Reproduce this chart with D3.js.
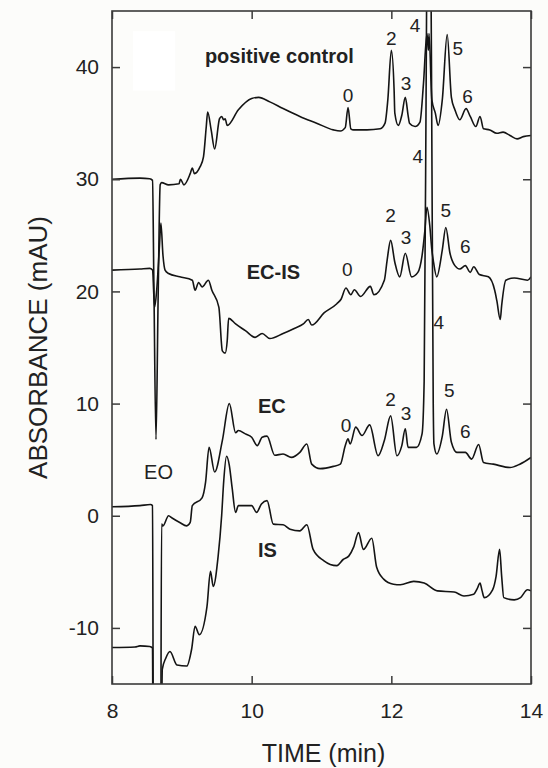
<!DOCTYPE html>
<html>
<head>
<meta charset="utf-8">
<script src="https://cdn.jsdelivr.net/npm/d3@7"></script>
<style>
  html, body { margin: 0; padding: 0; background: #fcfcfa; }
  svg { display: block; }
  text { font-family: "Liberation Sans", Arial, sans-serif; fill: #222; }
</style>
</head>
<body>
<svg id="chart" width="548" height="768"></svg>
<script>
// Chromatogram traces: [time (min), absorbance (mAU)]
const positiveControl = [
  [8.00,30.0],[8.40,30.1],[8.54,30.05],[8.58,29.9],[8.60,20.5],[8.63,6.8],[8.66,19.2],[8.69,29.5],
  [8.71,29.7],[8.81,29.5],[8.96,29.6],[8.98,30.0],[9.03,29.5],[9.12,30.5],[9.15,31.0],[9.18,30.5],
  [9.26,31.1],[9.31,32.0],[9.35,34.7],[9.37,36.0],[9.42,34.4],[9.47,32.7],[9.54,35.4],[9.57,35.6],
  [9.60,35.3],[9.62,35.4],[9.65,34.8],[9.81,36.2],[10.00,37.2],[10.10,37.3],[10.26,36.9],[10.45,36.3],
  [10.69,35.6],[10.93,35.0],[11.17,34.4],[11.27,34.3],[11.34,34.6],[11.38,36.4],[11.42,34.5],[11.46,34.4],
  [11.65,34.4],[11.84,34.5],[11.91,35.0],[11.95,37.1],[12.00,41.5],[12.04,37.9],[12.05,35.9],[12.10,34.8],
  [12.15,35.7],[12.20,37.3],[12.24,35.7],[12.26,35.0],[12.34,34.7],[12.41,35.1],[12.46,38.5],[12.51,43.0],
  [12.53,41.5],[12.54,43.0],[12.58,37.1],[12.63,35.9],[12.67,34.8],[12.73,37.1],[12.80,42.9],[12.86,37.3],
  [12.91,36.2],[12.98,35.3],[13.07,36.3],[13.13,35.6],[13.21,34.7],[13.27,35.6],[13.32,34.5],[13.41,34.4],
  [13.51,34.1],[13.60,34.2],[13.70,33.9],[13.80,33.6],[13.89,33.8],[14.00,33.9]
];

const ecIs = [
  [8.00,21.9],[8.40,22.0],[8.54,22.05],[8.58,21.9],[8.61,18.6],[8.64,20.1],[8.68,24.1],[8.70,26.1],
  [8.73,23.2],[8.76,21.9],[8.81,21.6],[8.97,21.3],[9.15,21.0],[9.19,20.1],[9.24,20.8],[9.29,20.4],
  [9.38,21.0],[9.43,20.1],[9.53,18.6],[9.58,14.7],[9.62,14.5],[9.65,15.6],[9.67,17.6],[9.77,17.1],
  [9.91,16.5],[10.05,15.9],[10.15,16.25],[10.26,15.8],[10.45,16.25],[10.61,16.7],[10.74,17.1],[10.81,17.5],
  [10.86,17.0],[11.04,18.1],[11.22,18.9],[11.28,19.3],[11.35,20.3],[11.42,19.7],[11.47,20.15],[11.56,19.55],
  [11.70,20.45],[11.75,19.7],[11.90,21.0],[11.94,22.8],[11.99,24.55],[12.05,22.6],[12.12,21.3],[12.20,23.4],
  [12.29,21.3],[12.38,21.7],[12.44,23.2],[12.48,25.4],[12.51,27.5],[12.55,25.9],[12.58,23.7],[12.60,22.8],
  [12.65,21.3],[12.73,23.7],[12.78,25.7],[12.84,23.4],[12.91,22.3],[12.98,22.0],[13.06,22.3],[13.13,21.7],
  [13.18,22.2],[13.26,21.5],[13.39,21.3],[13.48,20.1],[13.51,19.2],[13.56,17.5],[13.58,18.75],[13.64,21.0],
  [13.76,21.2],[13.95,21.0],[14.00,21.3]
];

const ecTrace = [
  [8.00,0.8],[8.40,0.9],[8.55,1.0],[8.58,0.9],[8.595,-25],[8.695,-25],[8.71,-0.75],[8.73,-0.9],
  [8.81,0.0],[8.86,-0.2],[8.97,-0.6],[9.07,-0.9],[9.12,-0.6],[9.15,0.9],[9.29,1.6],[9.34,3.0],
  [9.39,6.1],[9.47,3.9],[9.58,6.7],[9.68,10.0],[9.77,7.4],[9.81,7.6],[9.91,7.3],[10.00,7.0],
  [10.08,6.25],[10.15,7.0],[10.22,7.1],[10.33,5.4],[10.45,5.5],[10.57,5.2],[10.69,5.65],[10.79,6.4],
  [10.86,4.6],[10.98,4.2],[11.17,4.4],[11.27,4.6],[11.34,6.25],[11.38,6.85],[11.41,6.4],[11.49,7.9],
  [11.58,7.15],[11.69,8.1],[11.81,5.35],[11.90,6.7],[11.99,8.9],[12.08,5.35],[12.15,6.25],[12.20,7.75],
  [12.24,6.1],[12.36,6.1],[12.44,7.3],[12.47,12.0],[12.50,40.0],[12.525,65.0],[12.545,65.0],[12.575,40.0],
  [12.60,10.0],[12.61,6.4],[12.65,5.5],[12.73,7.1],[12.79,9.5],[12.86,6.55],[12.94,5.65],[13.06,5.65],
  [13.15,5.05],[13.25,6.35],[13.32,4.75],[13.46,4.6],[13.70,4.3],[13.84,4.6],[14.00,5.2]
];

const isTrace = [
  [8.00,-11.75],[8.33,-11.7],[8.40,-11.6],[8.54,-11.65],[8.58,-11.8],[8.59,-25],[8.70,-25],[8.72,-13.7],
  [8.77,-12.7],[8.83,-12.1],[8.93,-13.3],[9.07,-13.4],[9.14,-11.9],[9.19,-9.85],[9.25,-10.6],[9.36,-8.1],
  [9.41,-4.95],[9.45,-6.3],[9.52,-3.6],[9.57,0.0],[9.60,3.1],[9.64,5.3],[9.68,4.5],[9.72,2.5],
  [9.77,0.3],[9.81,0.9],[10.00,0.9],[10.07,0.3],[10.14,1.05],[10.22,1.35],[10.31,-0.75],[10.45,-0.8],
  [10.55,-1.2],[10.69,-1.35],[10.79,-0.8],[10.88,-3.0],[11.03,-4.0],[11.22,-4.45],[11.31,-3.9],[11.39,-3.6],
  [11.46,-2.8],[11.53,-1.5],[11.60,-3.0],[11.72,-2.0],[11.79,-4.6],[11.89,-5.65],[12.03,-6.1],[12.13,-6.15],
  [12.32,-5.85],[12.47,-6.0],[12.66,-6.7],[12.90,-6.8],[13.04,-7.15],[13.18,-7.0],[13.23,-6.5],[13.27,-6.0],
  [13.30,-6.7],[13.33,-7.3],[13.45,-6.6],[13.50,-5.4],[13.55,-3.0],[13.58,-5.4],[13.61,-7.3],[13.76,-7.5],
  [13.85,-7.3],[13.95,-6.6],[14.00,-6.7]
];

// Trace names: [text, time, absorbance]
const traceNames = [
  ["positive control", 9.33, 40.36],
  ["EC-IS", 9.93, 21.1],
  ["EC", 10.09, 9.15],
  ["IS", 10.09, -3.7]
];
const eoLabel = ["EO", 8.46, 3.26];

// Peak numbers: [text, time, absorbance]
const peakLabelsPC = [["0",11.38,36.9],["2",12.00,41.96],["3",12.21,37.95],["4",12.34,43.1],["5",12.95,41.07],["6",13.09,36.8]];
const peakLabelsECIS = [["0",11.37,21.34],["2",11.99,26.2],["3",12.21,24.26],["4",12.38,31.43],["5",12.78,26.6],["6",13.06,23.4]];
const peakLabelsEC = [["0",11.35,7.5],["2",11.99,9.82],["3",12.21,8.57],["4",12.68,16.65],["5",12.83,10.58],["6",13.06,6.92]];

const xTicks = [8, 10, 12, 14];
const yTicks = [-10, 0, 10, 20, 30, 40];

const svg = d3.select("#chart");
const plotL = 112, plotR = 531, plotT = 11, plotB = 684;

const x = d3.scaleLinear().domain([8, 14]).range([plotL, plotR]);
const y = d3.scaleLinear().domain([-15, 45]).range([plotB, plotT]);

// plain white patch in the upper-left corner of the plot area
svg.append("rect")
  .attr("x", x(8.3)).attr("y", y(43.2))
  .attr("width", x(8.905) - x(8.3)).attr("height", y(37.9) - y(43.2))
  .attr("fill", "#ffffff");

svg.append("clipPath").attr("id", "plotClip")
  .append("rect").attr("x", plotL).attr("y", plotT)
  .attr("width", plotR - plotL).attr("height", plotB - plotT);

const line = d3.line()
  .x(d => x(d[0]))
  .y(d => y(d[1]))
  .curve(d3.curveMonotoneX);

const traces = svg.append("g").attr("clip-path", "url(#plotClip)");
[positiveControl, ecIs, ecTrace, isTrace].forEach(series => {
  traces.append("path")
    .datum(series)
    .attr("d", line)
    .attr("fill", "none")
    .attr("stroke", "#141414")
    .attr("stroke-width", 1.6)
    .attr("stroke-linejoin", "round");
});

// Axes with inward ticks on all four sides
const axisColor = "#3a3a3a";
const plainNumber = d => String(d);
function styleAxis(g) {
  g.select(".domain").remove();
  g.selectAll(".tick line").attr("stroke", axisColor).attr("stroke-width", 1.5);
  g.selectAll(".tick text").style("font-size", "21px").attr("fill", "#222");
}

svg.append("g").attr("transform", `translate(0,${plotB})`)
  .call(d3.axisBottom(x).tickValues(xTicks).tickSize(-8).tickPadding(19).tickFormat(plainNumber))
  .call(styleAxis);
svg.append("g").attr("transform", `translate(0,${plotT})`)
  .call(d3.axisTop(x).tickValues(xTicks).tickSize(-8).tickFormat(""))
  .call(styleAxis);
svg.append("g").attr("transform", `translate(${plotL},0)`)
  .call(d3.axisLeft(y).tickValues(yTicks).tickSize(-8).tickPadding(13).tickFormat(plainNumber))
  .call(styleAxis);
svg.append("g").attr("transform", `translate(${plotR},0)`)
  .call(d3.axisRight(y).tickValues(yTicks).tickSize(-8).tickFormat(""))
  .call(styleAxis);

svg.append("rect")
  .attr("x", plotL).attr("y", plotT)
  .attr("width", plotR - plotL).attr("height", plotB - plotT)
  .attr("fill", "none").attr("stroke", axisColor).attr("stroke-width", 1.6);

// Axis titles
svg.append("text")
  .attr("x", (plotL + plotR) / 2 + 2).attr("y", 762)
  .attr("text-anchor", "middle")
  .style("font-size", "25px")
  .text("TIME (min)");
svg.append("text")
  .attr("transform", `translate(47,${(plotT + plotB) / 2}) rotate(-90)`)
  .attr("text-anchor", "middle")
  .style("font-size", "26px")
  .text("ABSORBANCE (mAU)");

// Trace names
svg.append("g").selectAll("text").data(traceNames).join("text")
  .attr("x", d => x(d[1])).attr("y", d => y(d[2]))
  .style("font-size", "20px").style("font-weight", "bold")
  .text(d => d[0]);
svg.append("text")
  .attr("x", x(eoLabel[1])).attr("y", y(eoLabel[2]))
  .style("font-size", "20px")
  .text(eoLabel[0]);

// Peak numbers
svg.append("g").selectAll("text")
  .data([...peakLabelsPC, ...peakLabelsECIS, ...peakLabelsEC]).join("text")
  .attr("x", d => x(d[1])).attr("y", d => y(d[2]))
  .attr("text-anchor", "middle")
  .style("font-size", "19px")
  .text(d => d[0]);
</script>
</body>
</html>
